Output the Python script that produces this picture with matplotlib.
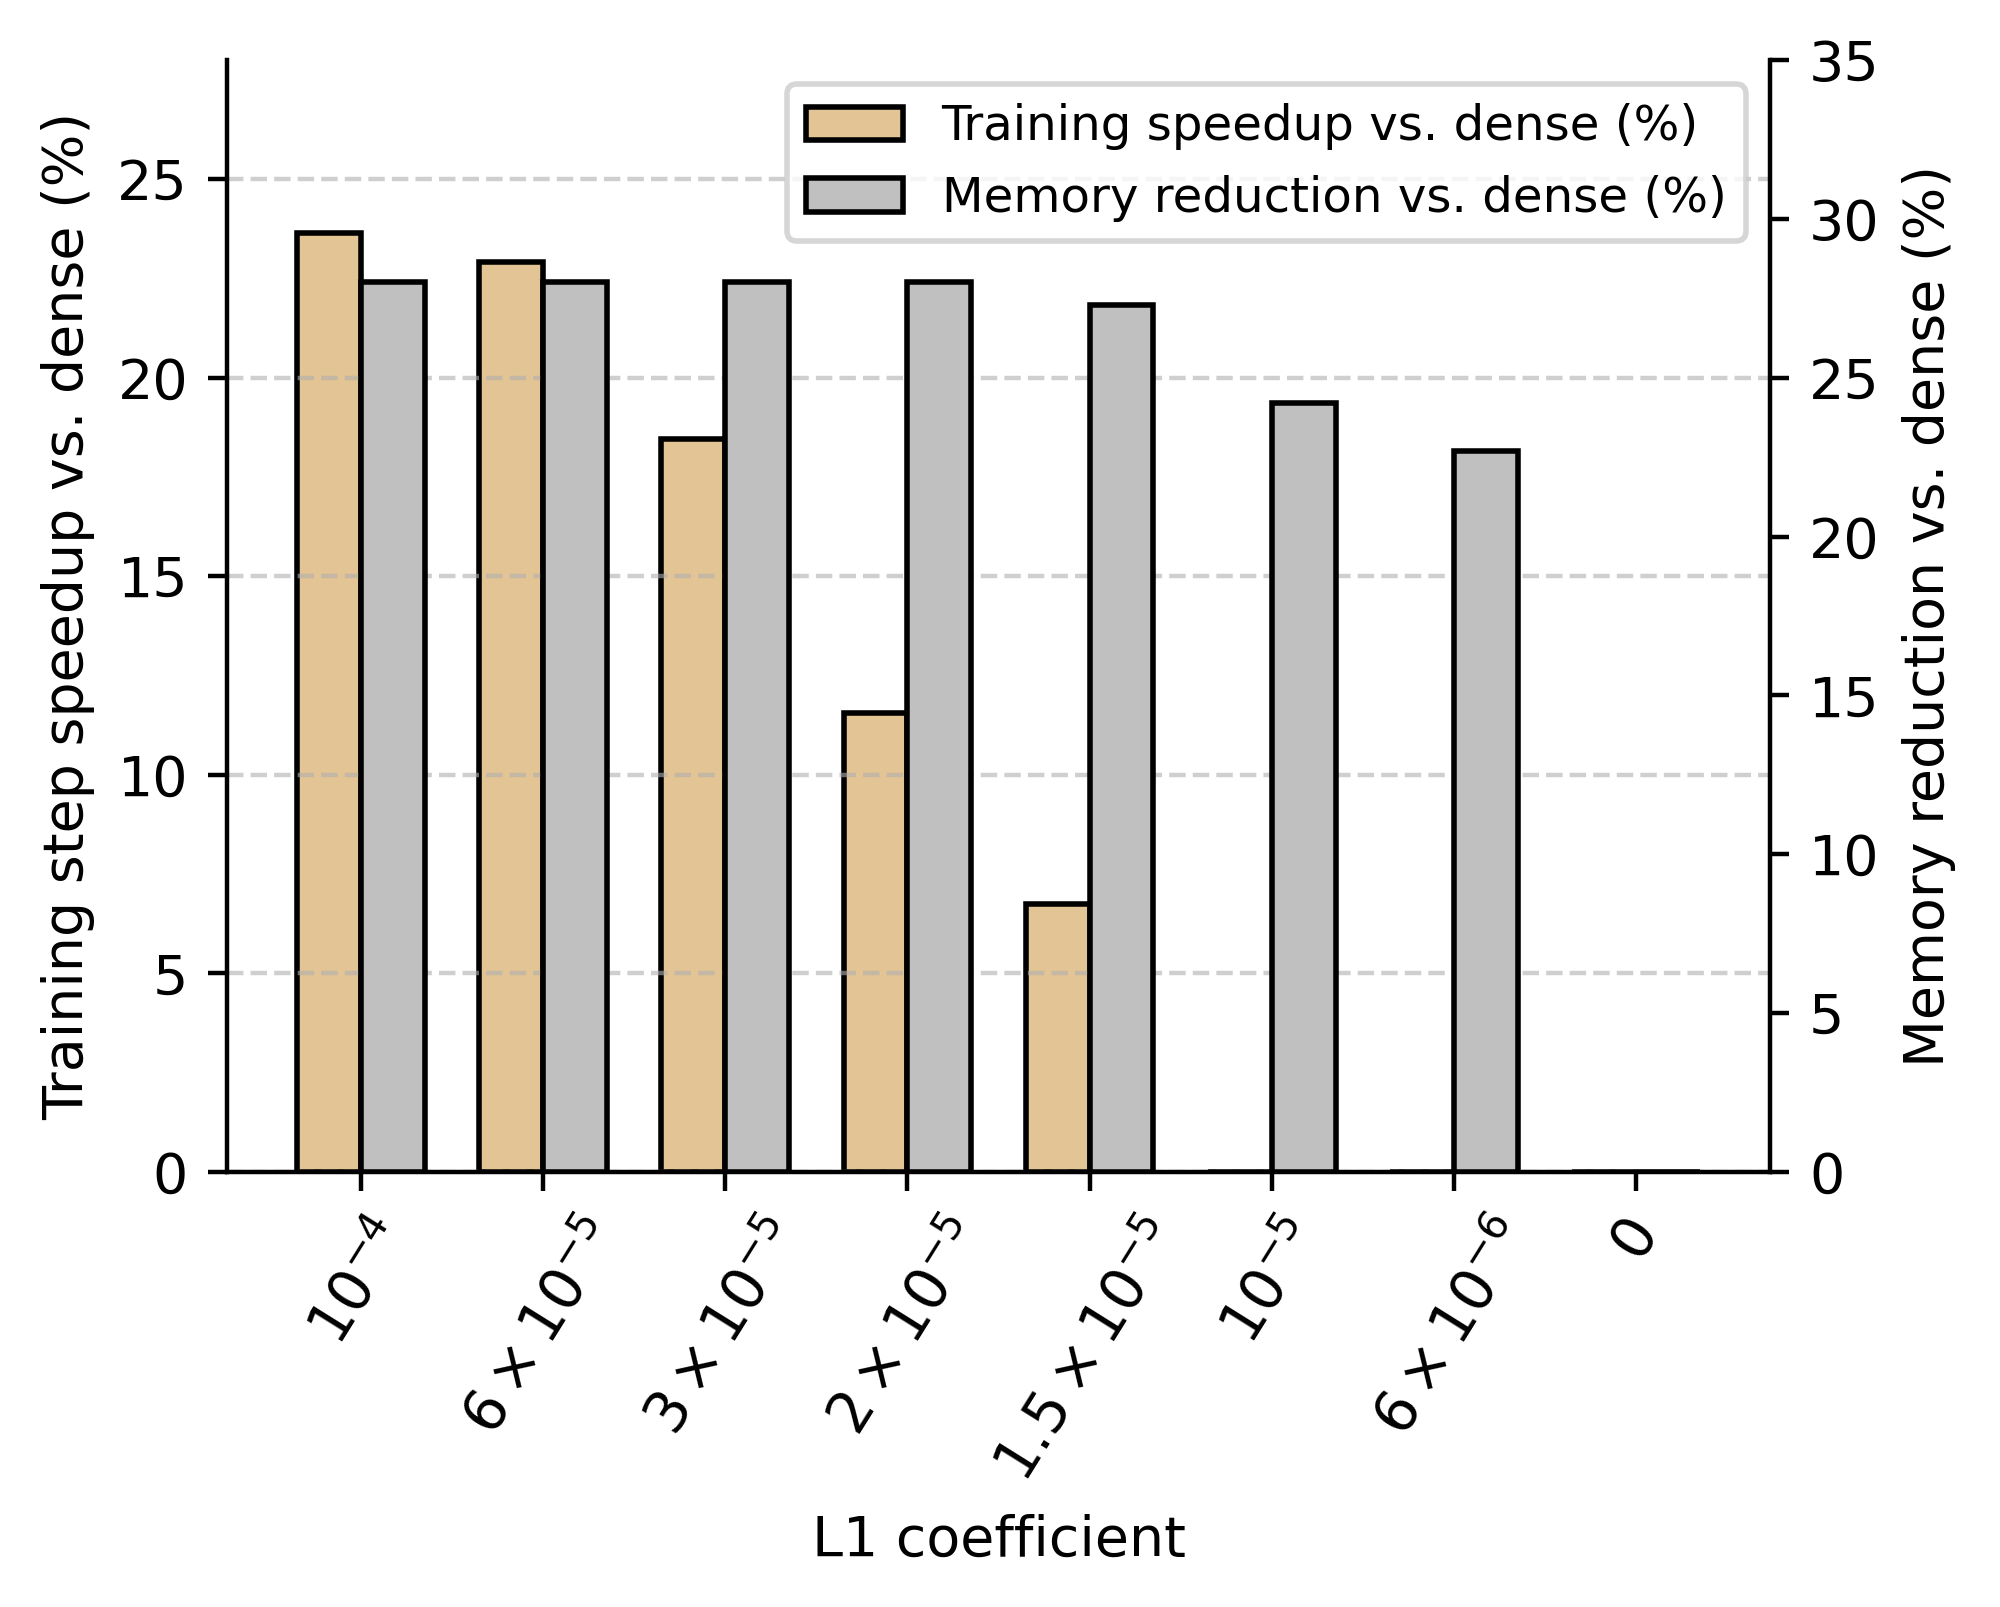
import matplotlib
matplotlib.use("Agg")
import matplotlib.pyplot as plt
import numpy as np

categories = [r"$10^{-4}$", r"$6\times10^{-5}$", r"$3\times10^{-5}$", r"$2\times10^{-5}$",
              r"$1.5\times10^{-5}$", r"$10^{-5}$", r"$6\times10^{-6}$", r"$0$"]
speedup = [23.65, 22.9, 18.45, 11.55, 6.75, 0, 0, 0]
memory = [28.0, 28.0, 28.0, 28.0, 27.3, 24.2, 22.7, 0]

x = np.arange(len(categories))
w = 0.35

fig = plt.figure(figsize=(5, 4.0175), dpi=400)
ax1 = fig.add_axes([0.1135, 0.2707, 0.885 - 0.1135, 0.9627 - 0.2707])
ax2 = ax1.twinx()

b1 = ax1.bar(x - w / 2, speedup, w, color="#E3C494", edgecolor="black", linewidth=1.0,
             label="Training speedup vs. dense (%)")
b2 = ax2.bar(x + w / 2, memory, w, color="#C0C0C0", edgecolor="black", linewidth=1.0,
             label="Memory reduction vs. dense (%)")

ax1.set_ylim(0, 28)
ax2.set_ylim(0, 35)
ax1.set_yticks([0, 5, 10, 15, 20, 25])
ax2.set_yticks([0, 5, 10, 15, 20, 25, 30, 35])
ax1.set_xticks(x)
ax1.set_xticklabels(categories, rotation=58, fontsize=10.4)
ax1.set_xlabel("L1 coefficient", fontsize=10, labelpad=4)
ax1.set_ylabel("Training step speedup vs. dense (%)", fontsize=10)
ax2.set_ylabel("Memory reduction vs. dense (%)", fontsize=10)
ax1.grid(axis="y", linestyle="--", color="#b0b0b0", alpha=0.6, linewidth=0.8)

ax1.spines["top"].set_visible(False)
ax1.spines["right"].set_visible(False)
ax2.spines["top"].set_visible(False)
ax2.spines["left"].set_visible(False)
ax2.spines["bottom"].set_visible(False)

ax2.legend([b1, b2], [b1.get_label(), b2.get_label()], loc="upper right", fontsize=8.7)

fig.savefig("out.png", dpi=400)
